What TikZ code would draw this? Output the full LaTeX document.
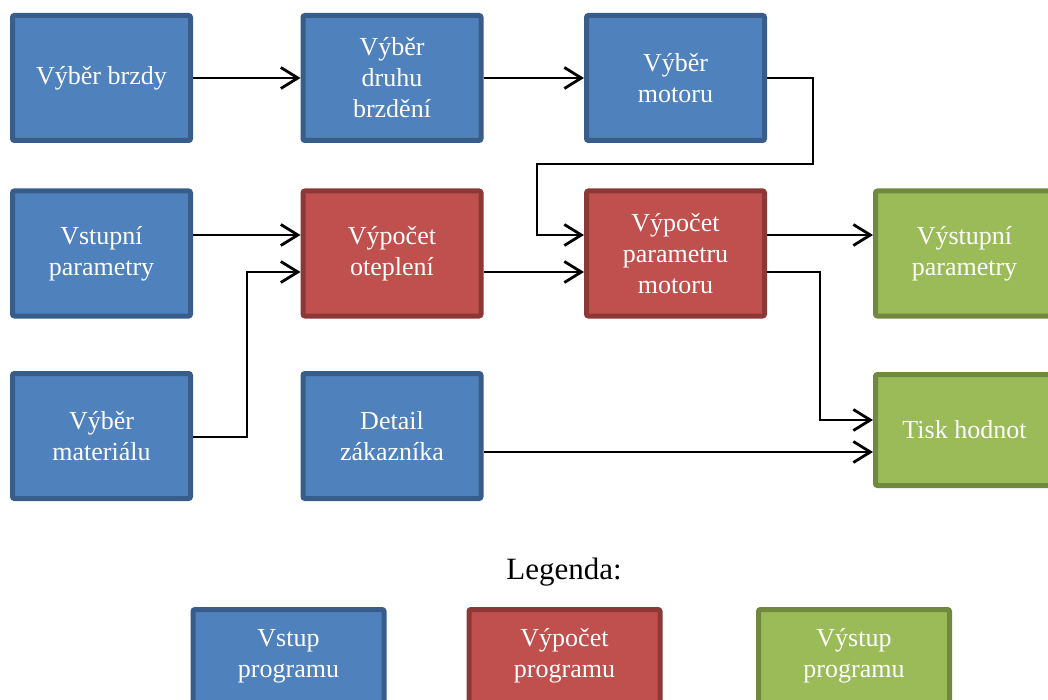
\documentclass[tikz,border=0pt]{standalone}
\usepackage{fontspec}
\setmainfont{Liberation Serif}
\usetikzlibrary{arrows.meta}
\definecolor{bfill}{HTML}{4F81BD}
\definecolor{bline}{HTML}{385D8A}
\definecolor{rfill}{HTML}{C0504D}
\definecolor{rline}{HTML}{8C3836}
\definecolor{gfill}{HTML}{9BBB59}
\definecolor{gline}{HTML}{71893F}
\tikzset{
  boxbase/.style={rectangle, rounded corners=2pt, line width=5pt, text=white, align=center,
    font=\fontsize{26}{31}\selectfont, minimum width=178pt, minimum height=125pt, inner sep=0pt},
  bluebox/.style={boxbase, fill=bfill, draw=bline},
  redbox/.style={boxbase, fill=rfill, draw=rline},
  greenbox/.style={boxbase, fill=gfill, draw=gline},
  arr/.style={line width=2.8pt, -{Straight Barb[length=17pt,width=21pt]}},
  conn/.style={line width=2.8pt},
}
\begin{document}
\begin{tikzpicture}[x=1pt,y=-1pt]
\useasboundingbox (0,0) rectangle (1048,700);
\fill[white] (0,0) rectangle (1048,700);
% row 1
\node[bluebox] (A) at (101.5,78) {Výběr brzdy};
\node[bluebox] (B) at (392,78) {Výběr\\druhu\\brzdění};
\node[bluebox] (C) at (675.5,78) {Výběr\\motoru};
% row 2
\node[bluebox] (D) at (101.5,253.5) {Vstupní\\parametry};
\node[redbox] (E) at (392,253.5) {Výpočet\\oteplení};
\node[redbox] (F) at (675.5,253.5) {Výpočet\\parametru\\motoru};
\node[greenbox] (G) at (964.5,253.5) {Výstupní\\parametry};
% row 3
\node[bluebox] (H) at (101.5,436) {Výběr\\materiálu};
\node[bluebox] (I) at (392,436) {Detail\\zákazníka};
\node[greenbox, minimum height=111pt] (J) at (964.5,430) {Tisk hodnot};
% legend
\node[font=\fontsize{31}{36}\selectfont] (L) at (564,572) {Legenda:};
\node[bluebox, minimum width=191pt, minimum height=93pt] (L1) at (288.5,656) {Vstup\\programu};
\node[redbox, minimum width=191pt, minimum height=93pt] (L2) at (564.5,656) {Výpočet\\programu};
\node[greenbox, minimum width=191pt, minimum height=93pt] (L3) at (854,656) {Výstup\\programu};
% connectors
\coordinate (c1) at (813,78);
\coordinate (c2) at (813,164);
\coordinate (c3) at (537,164);
\coordinate (c4) at (537,235);
\coordinate (m1) at (247,437);
\coordinate (m2) at (247,272);
\coordinate (p1) at (820,272);
\coordinate (p2) at (820,420);
\draw[arr] (A.east) -- (B.west);
\draw[arr] (B.east) -- (C.west);
\draw[arr] (C.east |- c1) -- (c1) -- (c2) -- (c3) -- (c4) -- (F.west |- c4);
\draw[arr] (D.east |- c4) -- (E.west |- c4);
\draw[arr] (H.east |- m1) -- (m1) -- (m2) -- (E.west |- m2);
\draw[arr] (E.east |- m2) -- (F.west |- m2);
\draw[arr] (F.east |- c4) -- (G.west |- c4);
\draw[arr] (F.east |- p1) -- (p1) -- (p2) -- (J.west |- p2);
\draw[arr] (I.east |- 0,452) -- (J.west |- 0,452);
\end{tikzpicture}
\end{document}
